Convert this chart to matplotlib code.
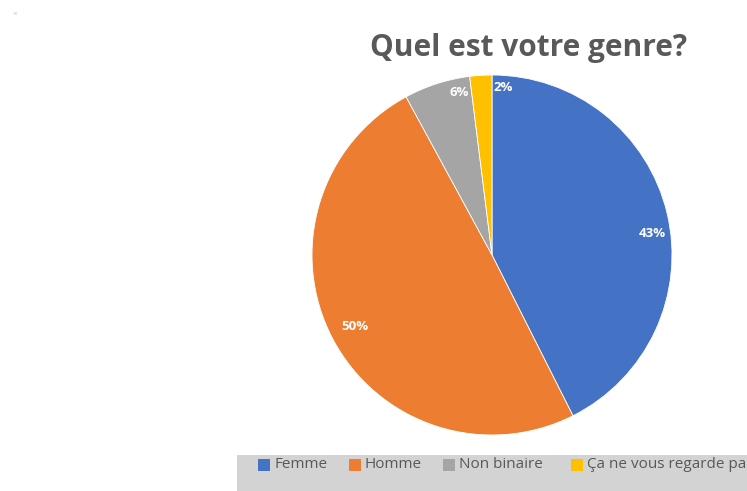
import matplotlib.pyplot as plt
from matplotlib.patches import Rectangle

# survey answers
categories = ['Femme', 'Homme', 'Non binaire', 'Ça ne vous regarde pas']
values = [43, 50, 6, 2]
pct_labels = ['43%', '50%', '6%', '2%']
colors = ['#4472C4', '#ED7D31', '#A5A5A5', '#FFC000']

W, H = 747, 491
fig = plt.figure(figsize=(W / 100, H / 100), dpi=100)
plt.rcParams['font.family'] = ['Open Sans', 'DejaVu Sans']

# pie centre (492,255) px, radius 180 px
cx, cy, r = 492, 255, 180
ax = fig.add_axes([(cx - r) / W, 1 - (cy + r) / H, 2 * r / W, 2 * r / H])
wedges, texts = ax.pie(values, colors=colors, startangle=90, counterclock=False,
                       radius=1, wedgeprops=dict(edgecolor='white', linewidth=0.6))
ax.set_xlim(-1, 1)
ax.set_ylim(-1, 1)
ax.set_aspect('equal')
ax.axis('off')

# percent labels inside the slices
label_pos = [(0.89, 0.12), (-0.76, -0.40), (-0.18, 0.90), (0.06, 0.93)]
for (lx, ly), lab in zip(label_pos, pct_labels):
    ax.text(lx, ly, lab, color='white', fontsize=9.5, fontweight='bold',
            ha='center', va='center')

fig.text(529 / W, 1 - 48 / H, 'Quel est votre genre?', ha='center', va='center',
         fontsize=21.5, fontweight='bold', color='#595959')

# little broken image mark top left
fig.text(15 / W, 1 - 14 / H, '×', fontsize=6, color='#c8c8c8', ha='center', va='center')

# legend band
fig.patches.append(Rectangle((237 / W, 0), (W - 237) / W, 36 / H,
                             transform=fig.transFigure, facecolor='#d3d3d3',
                             edgecolor='none', zorder=0))
leg_x = [258, 349, 443, 571]
leg_y = 465
for x, name, c in zip(leg_x, categories, colors):
    fig.patches.append(Rectangle((x / W, 1 - (leg_y + 6) / H), 12 / W, 12 / H,
                                 transform=fig.transFigure, facecolor=c,
                                 edgecolor='none', zorder=1))
    fig.text((x + 16) / W, 1 - leg_y / H, name, fontsize=11, color='#595959',
             ha='left', va='center')

fig.savefig('out.png', dpi=100)
